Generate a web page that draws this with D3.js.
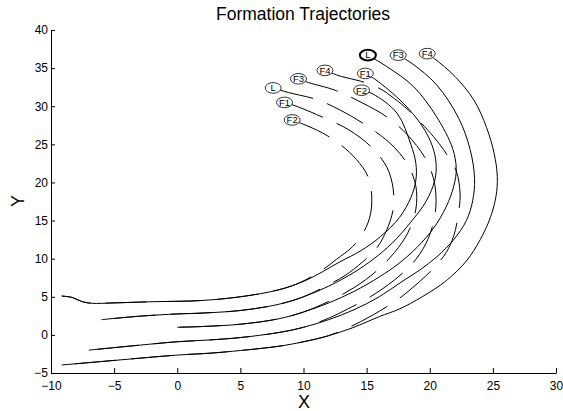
<!DOCTYPE html>
<html><head><meta charset="utf-8">
<script src="https://cdn.jsdelivr.net/npm/d3@7"></script>
<style>
body{margin:0;background:#fff}
svg{display:block}
text{font-family:Arial,"Liberation Sans",Helvetica,sans-serif}
</style>
</head><body>
<svg id="c" width="563" height="411"></svg>
<script>
const xTicks = [-10,-5,0,5,10,15,20,25,30];
const yTicks = [-5,0,5,10,15,20,25,30,35,40];
const agentNames = ["L","F1","F2","F3","F4"];

// solid trajectories (end point = label position)
const solidL  = [[0,1.0],[2,1.1],[5,1.4],[8,2.1],[10,3.0],[12,4.2],[14,5.7],[16,7.6],[17.5,9.3],[19,11.5],[20.3,14],[21.3,16.8],[21.9,19.5],[22.1,21.8],[21.8,24.5],[20.55,28.6],[18.7,32.6],[16.6,35.2],[15.1,36.7]];
const solidF1 = [[-6,2],[-3,2.45],[0,2.75],[1.8,2.85],[5,3.2],[8,4.0],[10,5.0],[12,6.4],[14,8.2],[15.5,9.9],[17,12],[18.5,14.8],[19.7,17.5],[20.4,20.3],[20.5,22.5],[20.2,24.8],[19.4,27.4],[17.9,30.4],[15.7,33.5],[14.9,34.3]];
const solidF2 = [[-9.15,5.1],[-8.3,4.9],[-7.6,4.4],[-6.8,4.15],[-5,4.2],[-2,4.35],[1.8,4.5],[5,5.0],[8,5.9],[10.25,7.2],[12.9,9.6],[14.6,11.1],[16.1,12.9],[17.6,15.4],[18.5,18],[18.9,20.3],[18.9,22.5],[18.5,25.0],[17.4,29.1],[15.5,31.6],[14.6,32.1]];
const solidF3 = [[-7,-2],[-3,-1.35],[0,-0.9],[2.6,-0.66],[5,-0.35],[8,0.3],[10,1.0],[12,2.0],[14,3.3],[16,5.0],[17.8,7.0],[19.2,8.5],[20.6,10.3],[21.9,12.5],[22.9,15.0],[23.4,17.6],[23.55,20.5],[23.2,24.3],[22.3,28.4],[20.55,32.8],[18.6,35.6],[17.5,36.7]];
const solidF4 = [[-9.15,-3.95],[-5,-3.35],[0,-2.65],[2.6,-2.4],[5,-2.05],[8,-1.5],[10,-0.9],[12,-0.1],[14,1.0],[16,2.4],[17.6,3.4],[19.4,5.0],[21.3,7.1],[22.9,9.7],[24.0,12.5],[24.8,15.4],[25.25,18.2],[25.35,20.8],[25.1,23.8],[24.5,27.2],[23.5,30.8],[22.0,33.9],[20.4,36.2],[19.8,36.9]];

// dashed trajectories (end point = label position)
const dashL  = [[0,1.0],[2,1.1],[5,1.4],[8,2.1],[10,3.0],[12,4.4],[14,6.2],[15.8,8.4],[17.2,10.8],[18.3,13.5],[18.9,16.5],[18.9,19.5],[18.3,22.2],[17.2,24.6],[15.5,26.9],[12.9,29.5],[11,30.9],[8.8,31.8],[7.6,32.4]];
const dashF1 = [[-6,2],[-3,2.45],[0,2.75],[1.8,2.85],[5,3.2],[8,4.0],[10,5.0],[12,6.6],[13.3,7.8],[14.7,9.6],[15.8,11.4],[16.6,13.8],[17.1,16.5],[17.1,19.2],[16.6,22],[15.4,24.6],[13.6,26.9],[12,28.2],[9.6,29.9],[8.5,30.5]];
const dashF2 = [[-9.15,5.1],[-8.3,4.9],[-7.6,4.4],[-6.8,4.15],[-5,4.2],[-2,4.35],[1.8,4.5],[5,5.0],[8,5.9],[9.5,6.7],[11.3,8.3],[12.6,9.9],[13.9,11.6],[14.8,13.6],[15.3,15.8],[15.4,18.3],[15.1,20.8],[14.2,23.0],[12.9,25.0],[11.5,26.5],[9.9,27.7],[9.1,28.2]];
const dashF3 = [[-7,-2],[-3,-1.35],[0,-0.9],[2.6,-0.66],[5,-0.35],[8,0.3],[10,1.0],[12,2.2],[13.5,3.4],[15.2,4.9],[17.2,7.2],[18.7,9.5],[19.7,12],[20.3,14.8],[20.5,17.5],[20.3,20.5],[19.6,23.3],[18.2,26.3],[16.6,28.6],[14.7,30.4],[12.5,32.1],[10.4,33.1],[9.6,33.6]];
const dashF4 = [[-9.15,-3.95],[-5,-3.35],[0,-2.65],[2.6,-2.4],[5,-2.05],[8,-1.5],[10,-0.9],[12,-0.1],[14,1.3],[16,3.1],[17.6,4.8],[19.2,7.0],[20.3,8.75],[21.3,10.8],[21.9,13],[22.3,16.2],[22.4,18.6],[22.1,21.5],[21.3,23.8],[20.3,26.0],[18.3,29.5],[17.2,31],[16.06,32.3],[14.5,33.3],[13.0,33.9],[11.7,34.7]];

const solidSeries = [solidL, solidF1, solidF2, solidF3, solidF4];
const dashSeries  = [dashL, dashF1, dashF2, dashF3, dashF4];

const svg = d3.select("#c");
const x = d3.scaleLinear().domain([-10,30]).range([51,556]);
const y = d3.scaleLinear().domain([-5,40]).range([373,30]);

// title and axis labels
svg.append("text").attr("x",303).attr("y",20).attr("text-anchor","middle")
  .attr("font-size",17.5).attr("fill","#000").text("Formation Trajectories");
svg.append("text").attr("x",304).attr("y",408).attr("text-anchor","middle")
  .attr("font-size",18).attr("fill","#000").text("X");
svg.append("text").attr("transform","translate(24,201) rotate(-90)").attr("text-anchor","middle")
  .attr("font-size",18).attr("fill","#000").text("Y");

// axes
const xa = svg.append("g").attr("transform","translate(0,373)")
  .call(d3.axisBottom(x).tickValues(xTicks).tickSizeInner(-5).tickSizeOuter(0).tickPadding(8).tickFormat(d3.format("d")));
const ya = svg.append("g").attr("transform","translate(51,0)")
  .call(d3.axisLeft(y).tickValues(yTicks).tickSizeInner(-4).tickSizeOuter(0).tickPadding(3).tickFormat(d3.format("d")));
[xa,ya].forEach(g=>{
  g.selectAll("path.domain").attr("stroke","#000").attr("stroke-width",1);
  g.selectAll(".tick line").attr("stroke","#000");
  g.selectAll(".tick text").attr("font-size",12).attr("fill","#000")
    .attr("font-family","Arial,'Liberation Sans',sans-serif");
});

const line = d3.line().x(d=>x(d[0])).y(d=>y(d[1])).curve(d3.curveCatmullRom.alpha(0.5));

const plot = svg.append("g");
plot.selectAll("path.solid").data(solidSeries).join("path").attr("class","solid")
  .attr("d",line).attr("fill","none").attr("stroke","#000").attr("stroke-width",1);
plot.selectAll("path.dash").data(dashSeries).join("path").attr("class","dash")
  .attr("d",d=>line(d.slice().reverse())).attr("fill","none").attr("stroke","#000").attr("stroke-width",1)
  .attr("stroke-dasharray","41,15");

function labels(series, cls, boldFirst){
  const g = plot.selectAll("g."+cls).data(series).join("g").attr("class",cls)
    .attr("transform",d=>{const p=d[d.length-1];return `translate(${x(p[0])},${y(p[1])})`;});
  g.append("ellipse").attr("rx",8).attr("ry",5.3)
    .attr("fill","#fff").attr("stroke","#000")
    .attr("stroke-width",(d,i)=>(boldFirst&&i===0)?2:0.8);
  g.append("text").attr("text-anchor","middle").attr("dy","0.35em").attr("font-size",9.5)
    .attr("fill","#000").text((d,i)=>agentNames[i]);
}
labels(dashSeries,"dlab",false);
labels(solidSeries,"slab",true);
</script>
</body></html>
